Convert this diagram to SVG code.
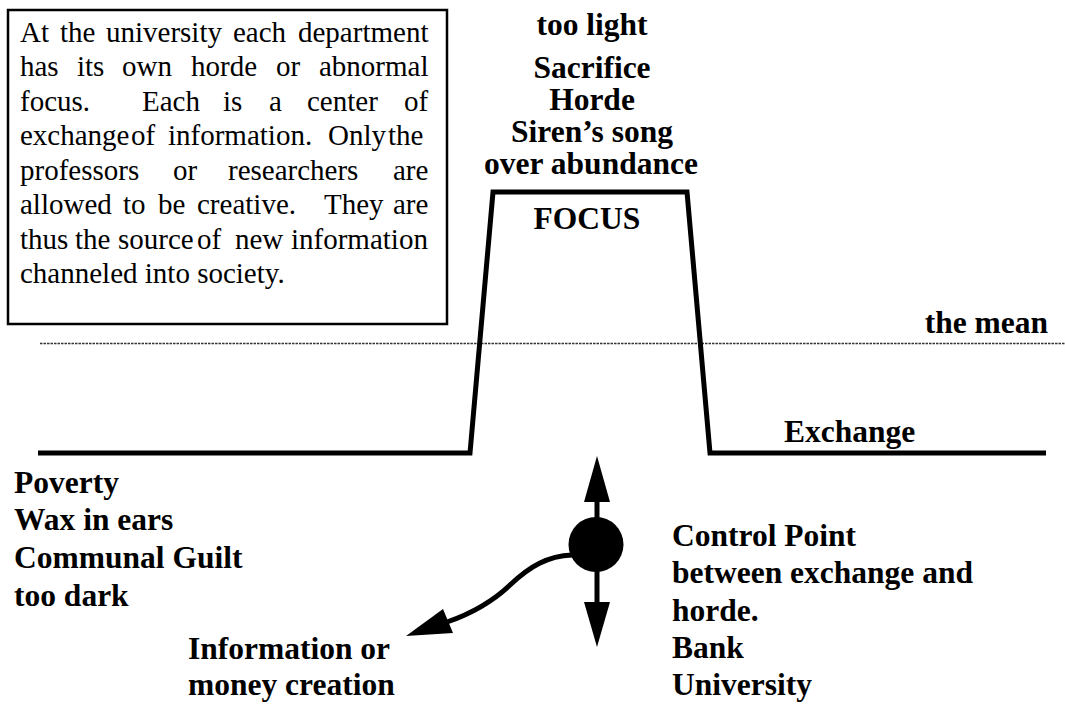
<svg xmlns="http://www.w3.org/2000/svg" width="1065" height="704" viewBox="0 0 1065 704">
<style>
.reg{font-size:29px}
.bd{font-size:31.5px;font-weight:bold}
.mid{text-anchor:middle}
.ln{fill:none;stroke:#000;stroke-width:5}
</style>
<rect width="1065" height="704" fill="#fff"/>
<g id="note">
<rect x="8" y="10" width="439" height="314" fill="#fff" stroke="#000" stroke-width="2.5"/>
<text class="reg" font-family="Liberation Serif, serif" y="42"><tspan x="20">At</tspan><tspan x="60">the</tspan><tspan x="106">university</tspan><tspan x="233">each</tspan><tspan x="298">department</tspan></text>
<text class="reg" font-family="Liberation Serif, serif" y="76"><tspan x="20">has</tspan><tspan x="77">its</tspan><tspan x="122">own</tspan><tspan x="191">horde</tspan><tspan x="276">or</tspan><tspan x="319">abnormal</tspan></text>
<text class="reg" font-family="Liberation Serif, serif" y="110.5"><tspan x="20">focus.</tspan><tspan x="142">Each</tspan><tspan x="223">is</tspan><tspan x="269">a</tspan><tspan x="307">center</tspan><tspan x="404">of</tspan></text>
<text class="reg" font-family="Liberation Serif, serif" y="145"><tspan x="20">exchange</tspan><tspan x="131">of</tspan><tspan x="168">information.</tspan><tspan x="328">Only</tspan><tspan x="388">the</tspan></text>
<text class="reg" font-family="Liberation Serif, serif" y="179.5"><tspan x="20">professors</tspan><tspan x="173">or</tspan><tspan x="228">researchers</tspan><tspan x="393">are</tspan></text>
<text class="reg" font-family="Liberation Serif, serif" y="214"><tspan x="20">allowed</tspan><tspan x="123">to</tspan><tspan x="158">be</tspan><tspan x="197">creative.</tspan><tspan x="324">They</tspan><tspan x="393">are</tspan></text>
<text class="reg" font-family="Liberation Serif, serif" y="248.5"><tspan x="20">thus</tspan><tspan x="75">the</tspan><tspan x="118">source</tspan><tspan x="197">of</tspan><tspan x="235">new</tspan><tspan x="291">information</tspan></text>
<text class="reg" font-family="Liberation Serif, serif" x="20" y="283">channeled into society.</text>
</g>
<g id="mean-line">
<line x1="40" y1="343.5" x2="1065" y2="343.5" stroke="#333" stroke-width="1.5" stroke-dasharray="2.5 1"/>
<text class="bd" font-family="Liberation Serif, serif" x="1048" y="333" text-anchor="end">the mean</text>
</g>
<g id="focus-curve">
<polyline class="ln" points="38,453 470,453 493,192 687,192 710,453 1046,453"/>
</g>
<g id="top-labels">
<text class="bd mid" font-family="Liberation Serif, serif" x="592" y="35">too light</text>
<text class="bd mid" font-family="Liberation Serif, serif" x="592" y="78">Sacrifice</text>
<text class="bd mid" font-family="Liberation Serif, serif" x="592" y="110">Horde</text>
<text class="bd mid" font-family="Liberation Serif, serif" x="592" y="142">Siren&#8217;s song</text>
<text class="bd mid" font-family="Liberation Serif, serif" x="591" y="174">over abundance</text>
<text class="bd mid" font-family="Liberation Serif, serif" x="587" y="229">FOCUS</text>
</g>
<g id="exchange-label">
<text class="bd" font-family="Liberation Serif, serif" x="784" y="442">Exchange</text>
</g>
<g id="left-labels">
<text class="bd" font-family="Liberation Serif, serif" x="14" y="493">Poverty</text>
<text class="bd" font-family="Liberation Serif, serif" x="14" y="530">Wax in ears</text>
<text class="bd" font-family="Liberation Serif, serif" x="14" y="567.5">Communal Guilt</text>
<text class="bd" font-family="Liberation Serif, serif" x="14" y="606">too dark</text>
</g>
<g id="control-point">
<circle cx="596" cy="544.5" r="27.5" fill="#000"/>
</g>
<g id="connectors">
<line x1="597" y1="520" x2="597" y2="500" stroke="#000" stroke-width="5"/>
<polygon points="597,456 584,502 610,502"/>
<line x1="597" y1="570" x2="597" y2="604" stroke="#000" stroke-width="5"/>
<polygon points="597,647 584,602 610,602"/>
<path class="ln" d="M572,555 C548,556 530,566 510,585 C490,604 470,614 447,622"/>
<polygon points="406,636 443,609 453,633"/>
</g>
<g id="info-label">
<text class="bd" font-family="Liberation Serif, serif" x="188" y="659">Information or</text>
<text class="bd" font-family="Liberation Serif, serif" x="188" y="695">money creation</text>
</g>
<g id="control-label">
<text class="bd" font-family="Liberation Serif, serif" x="672" y="545.5">Control Point</text>
<text class="bd" font-family="Liberation Serif, serif" x="672" y="583">between exchange and</text>
<text class="bd" font-family="Liberation Serif, serif" x="672" y="620.5">horde.</text>
<text class="bd" font-family="Liberation Serif, serif" x="672" y="658">Bank</text>
<text class="bd" font-family="Liberation Serif, serif" x="672" y="695">University</text>
</g>
</svg>
